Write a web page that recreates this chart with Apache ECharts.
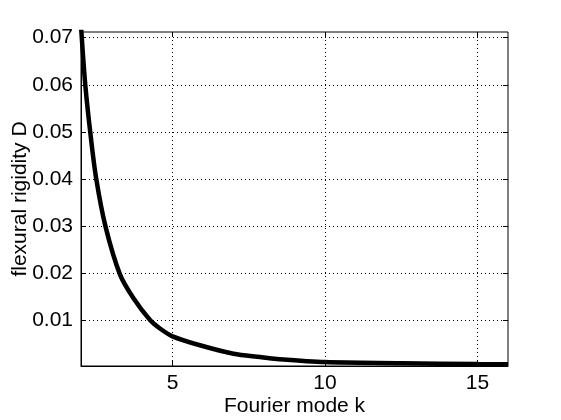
<!DOCTYPE html>
<html lang="en">
<head>
    <meta charset="UTF-8">
    <title>flexural rigidity</title>
    <style>
        * {
            margin: 0;
            padding: 0;
        }

        html, body {
            width: 100%;
            height: 100%;
            background: #fff;
        }

        #chart {
            width: 561px;
            height: 420px;
        }
    </style>
    <script src="https://cdn.jsdelivr.net/npm/echarts@6/dist/echarts.min.js"></script>
</head>
<body>
<div id="chart"></div>

<script>
    // values (first point runs just above the top of the axes)
    const modeK = [2, 2.14, 2.32, 2.5, 2.8, 3.28, 3.71, 4.27, 4.6, 5, 5.9, 7, 7.87, 8.42, 10, 12.5, 15, 16]
    const rigidityD = [0.0725, 0.06, 0.049, 0.04, 0.03, 0.0197, 0.0148, 0.01, 0.0082, 0.0066, 0.0047, 0.0029, 0.0022, 0.0018, 0.00113, 0.0009, 0.0007, 0.00065]
    const xTicks = [5, 10, 15]
    const yTicks = [0.01, 0.02, 0.03, 0.04, 0.05, 0.06, 0.07]

    const font = 'Liberation Sans'
    const xRange = {min: 2, max: 16}
    const yRange = {min: 0.0003, max: 0.0712}

    function initChart(dom) {
        let chart = echarts.init(dom)

        let gridLine = {
            show: true,
            lineStyle: {color: '#000', width: 1, type: [1, 3]}
        }

        let option = {
            animation: false,
            grid: {
                left: 81,
                right: 53,
                top: 32,
                bottom: 54,
                outerBoundsMode: 'none',
                containLabel: false,
                show: true,
                borderColor: '#000',
                borderWidth: 1,
                backgroundColor: '#fff'
            },
            xAxis: [
                {
                    type: 'value',
                    min: xRange.min,
                    max: xRange.max,
                    name: 'Fourier mode k',
                    nameLocation: 'middle',
                    nameGap: 30,
                    nameMoveOverlap: false,
                    nameTextStyle: {color: '#000', fontSize: 21, fontFamily: font},
                    axisLine: {show: true, lineStyle: {color: '#000'}},
                    axisTick: {show: true, inside: true, length: 5, customValues: xTicks, lineStyle: {color: '#000'}},
                    axisLabel: {color: '#000', fontSize: 21, fontFamily: font, margin: 7, customValues: xTicks},
                    splitLine: gridLine
                },
                {
                    type: 'value',
                    position: 'top',
                    min: xRange.min,
                    max: xRange.max,
                    axisLine: {show: false},
                    axisTick: {show: true, inside: true, length: 5, customValues: xTicks, lineStyle: {color: '#000'}},
                    axisLabel: {show: false},
                    splitLine: {show: false}
                }
            ],
            yAxis: [
                {
                    type: 'value',
                    min: yRange.min,
                    max: yRange.max,
                    name: 'flexural rigidity D',
                    nameLocation: 'middle',
                    nameGap: 50,
                    nameMoveOverlap: false,
                    nameTextStyle: {color: '#000', fontSize: 21, fontFamily: font},
                    axisLine: {show: true, lineStyle: {color: '#000'}},
                    axisTick: {show: true, inside: true, length: 5, customValues: yTicks, lineStyle: {color: '#000'}},
                    axisLabel: {
                        color: '#000', fontSize: 21, fontFamily: font, margin: 8, customValues: yTicks,
                        formatter: v => v.toFixed(2)
                    },
                    splitLine: gridLine
                },
                {
                    type: 'value',
                    position: 'right',
                    min: yRange.min,
                    max: yRange.max,
                    axisLine: {show: false},
                    axisTick: {show: true, inside: true, length: 5, customValues: yTicks, lineStyle: {color: '#000'}},
                    axisLabel: {show: false},
                    splitLine: {show: false}
                }
            ],
            series: [
                {
                    type: 'line',
                    data: modeK.map((k, i) => [k, rigidityD[i]]),
                    showSymbol: false,
                    smooth: 0.3,
                    clip: true,
                    lineStyle: {color: '#000', width: 4.5}
                }
            ]
        }
        chart.setOption(option, true)
    }

    initChart(document.getElementById('chart'))
</script>
</body>
</html>
